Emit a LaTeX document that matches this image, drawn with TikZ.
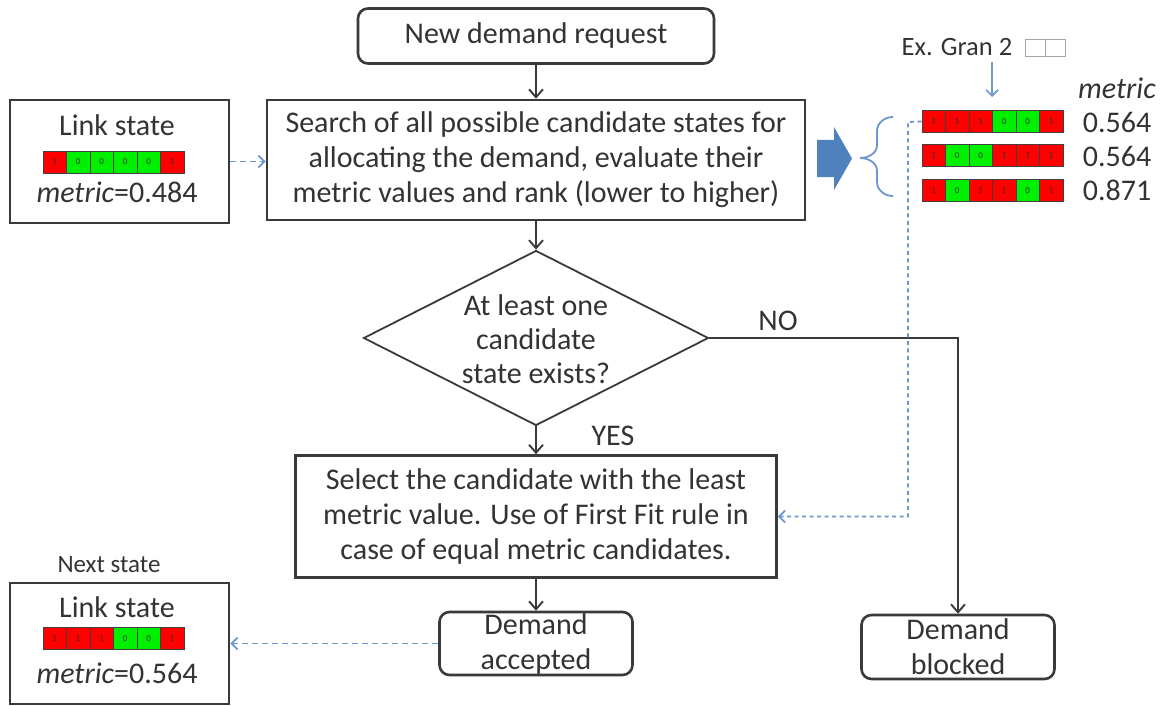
\documentclass[tikz,border=0pt]{standalone}
\usepackage{fontspec}
\setmainfont{Carlito}
\usetikzlibrary{arrows.meta,shapes.geometric}

\definecolor{ink}{HTML}{333333}
\definecolor{edge}{HTML}{3A3A3A}
\definecolor{linkblue}{HTML}{6C97CE}
\definecolor{arrowblue}{HTML}{4F81BD}
\definecolor{bitc1}{HTML}{FF0000}
\definecolor{bitc0}{HTML}{00F000}

% one row of six occupancy cells: name, left x, centre y, bit list
\newcommand\bitrow[4]{%
  \foreach \b [count=\i] in {#4}{%
    \node[bitcell, fill=bitc\b] (#1-\i) at ({#2+(\i-0.5)*23.5},#3) {\b};
  }%
}

\begin{document}
\begin{tikzpicture}[x=1pt,y=-1pt,
  box/.style={draw=edge, line width=2.6pt, fill=white, inner sep=0pt, text=ink, align=center,
              font=\fontsize{30}{35}\selectfont},
  rbox/.style={box, rounded corners=10pt},
  txt/.style={inner sep=0pt, text=ink, align=center, font=\fontsize{30}{35}\selectfont},
  flow/.style={draw=edge, line width=1.9pt, -{Straight Barb[length=8pt,width=14pt]}},
  hint/.style={draw=linkblue, line width=1.8pt, dash pattern=on 6pt off 4pt,
               -{Straight Barb[length=6pt,width=12pt]}},
  dotted hint/.style={hint, dash pattern=on 4pt off 3.5pt},
  bitcell/.style={draw=black!75, line width=0.9pt, minimum width=23.5pt, minimum height=22pt,
                  inner sep=0pt, font=\fontsize{9}{9}\selectfont, text=black!80},
]
\useasboundingbox (0,0) rectangle (1167,706);

% main flow
\node[rbox, minimum width=356pt, minimum height=55pt] (req) at (536,36) {New demand request};
\node[box, minimum width=538pt, minimum height=120pt] (search) at (536,160)
  {Search of all possible candidate states for\\allocating the demand, evaluate their\\metric values and rank (lower to higher)};
\node[diamond, draw=edge, line width=1.8pt, minimum width=345pt, minimum height=175pt, inner sep=0pt]
  (dec) at (536,338) {};
\node[txt, font=\fontsize{30}{34}\selectfont] (dect) at (536,339) {At least one\\candidate\\state exists?};
\node[box, minimum width=481pt, minimum height=122pt] (sel) at (536,516.5)
  {Select the candidate with the least\\metric value. Use of First Fit rule in\\case of equal metric candidates.};
\node[rbox, minimum width=193pt, minimum height=63pt] (acc) at (536,643.5) {Demand\\accepted};
\node[rbox, minimum width=193pt, minimum height=64pt] (blk) at (958,647) {Demand\\blocked};

\node[txt] (yes) at (613,436) {YES};
\node[txt] (no) at (778,321) {NO};

\draw[flow] (req.south) -- (search.north);
\draw[flow] (search.south) -- (dec.north);
\draw[flow] (dec.south) -- (sel.north);
\draw[flow] (sel.south) -- (acc.north);
\draw[flow] (dec.east) -| (blk.north);

% current link state
\node[box, minimum width=219pt, minimum height=123pt] (ls1) at (119.5,161.5) {};
\node[txt] (ls1t) at (117,125) {Link state};
\bitrow{lsa}{43}{162}{1,0,0,0,0,1}
\node[txt] (ls1m) at (117,192) {\textit{metric}=0.484};
\draw[hint] (ls1.east) -- (ls1.east -| search.west);

% next link state
\node[txt, font=\fontsize{25}{28}\selectfont] (nexts) at (109,565) {Next state};
\node[box, minimum width=219pt, minimum height=121pt] (ls2) at (119.5,643.5) {};
\node[txt] (ls2t) at (117,607) {Link state};
\bitrow{lsb}{43}{638.5}{1,1,1,0,0,1}
\node[txt] (ls2m) at (117,673) {\textit{metric}=0.564};
\draw[hint] (acc.west) -- (acc.west -| ls2.east);

% candidate states
\fill[arrowblue] (817,140) -- (834,140) -- (834,127) -- (852,158.5) -- (834,190) -- (834,177)
  -- (817,177) -- cycle;
\draw[linkblue, line width=1.8pt] (893,117) to[out=180,in=90] (877,131) -- (877,145)
  to[out=-90,in=0] (860,158) to[out=0,in=90] (877,171) -- (877,182)
  to[out=-90,in=180] (893,196);

\node[txt, font=\fontsize{26.5}{30}\selectfont] (gran) at (957,47) {Ex. Gran 2};
\node[draw=gray!70, line width=1pt, minimum width=20pt, minimum height=17pt, inner sep=0pt]
  (g1) at (1035,48.5) {};
\node[draw=gray!70, line width=1pt, minimum width=20pt, minimum height=17pt, inner sep=0pt]
  (g2) at (1055,48.5) {};
\coordinate (ga1) at (992,62);
\coordinate (ga2) at (992,97);
\draw[linkblue, line width=1.6pt, -{Straight Barb[length=6pt,width=12pt]}] (ga1) -- (ga2);

\node[txt, font=\itshape\fontsize{30}{34}\selectfont] (mhead) at (1117,88) {metric};
\bitrow{ra}{922}{121.5}{1,1,1,0,0,1}
\bitrow{rb}{922}{155.5}{1,0,0,1,1,1}
\bitrow{rc}{922}{190.5}{1,0,1,1,0,1}
\node[txt] (va) at (1117,122) {0.564};
\node[txt] (vb) at (1117,156) {0.564};
\node[txt] (vc) at (1117,190) {0.871};

\coordinate (tap) at (908,122);
\draw[dotted hint] (ra-1.west) -- (tap) |- (sel.east);
\end{tikzpicture}
\end{document}
